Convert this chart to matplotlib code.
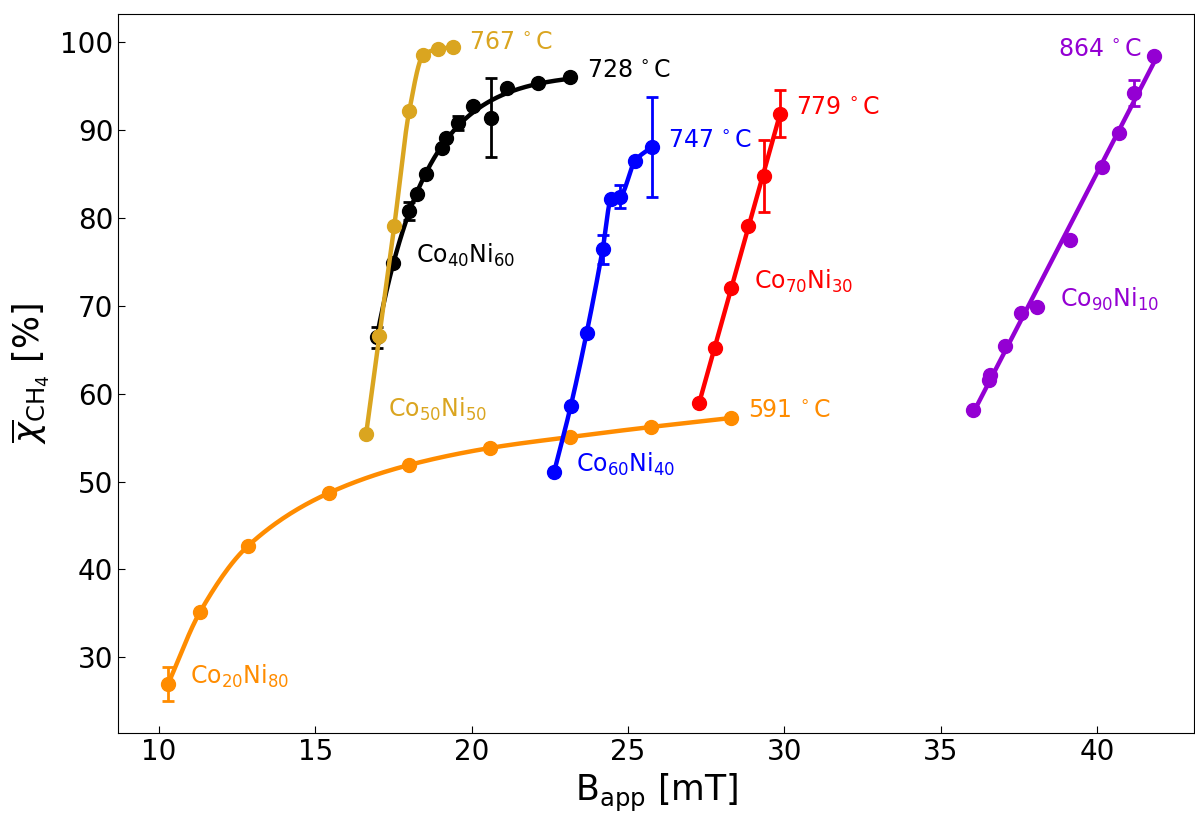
import numpy as np
import matplotlib
matplotlib.use("Agg")
import matplotlib.pyplot as plt

# Applied field B_app [mT] and mean CH4 conversion [%] per alloy
b_co20 = [10.30, 11.32, 12.85, 15.44, 18.00, 20.59, 23.15, 25.74, 28.29]
x_co20 = [26.96, 35.15, 42.66, 48.70, 51.88, 53.82, 55.07, 56.21, 57.23]
e_co20 = [1.9, 0, 0, 0, 0, 0, 0, 0, 0]

b_co40 = [16.97, 17.50, 18.01, 18.25, 18.54, 19.05, 19.18, 19.56, 20.06, 20.61, 21.12, 22.13, 23.15]
x_co40 = [66.42, 74.85, 80.80, 82.70, 84.98, 87.94, 89.14, 90.85, 92.75, 91.42, 94.76, 95.40, 96.02]
e_co40 = [1.2, 0, 1.0, 0, 0, 0, 0, 0.8, 0.3, 4.5, 0, 0, 0]

b_co50 = [16.63, 17.05, 17.53, 18.01, 18.46, 18.92, 19.40]
x_co50 = [55.42, 66.57, 79.09, 92.21, 98.55, 99.20, 99.43]
e_co50 = [0, 0, 0, 0, 0, 0, 0]

b_co60 = [22.64, 23.17, 23.68, 24.19, 24.46, 24.75, 25.23, 25.76]
x_co60 = [51.13, 58.60, 66.95, 76.44, 82.13, 82.43, 86.52, 88.05]
e_co60 = [0, 0, 0, 1.67, 0, 1.27, 0, 5.71]

b_co70 = [27.28, 27.78, 28.29, 28.83, 29.33, 29.86]
x_co70 = [58.98, 65.24, 72.00, 79.13, 84.78, 91.84]
e_co70 = [0, 0, 0, 0, 4.12, 2.69]

b_co90 = [36.02, 36.55, 36.58, 37.06, 37.56, 38.07, 39.11, 40.15, 40.68, 41.16, 41.82]
x_co90 = [58.15, 61.56, 62.13, 65.43, 69.22, 69.84, 77.50, 85.84, 89.71, 94.26, 98.44]
e_co90 = [0, 0, 0, 0, 0, 0, 0, 0, 0, 1.48, 0]

temps = ["591", "728", "767", "747", "779", "864"]


def pchip(x, y, xn):
    """Shape-preserving piecewise cubic Hermite curve through (x, y)."""
    x = np.asarray(x, float)
    y = np.asarray(y, float)
    h = np.diff(x)
    d = np.diff(y) / h
    m = np.zeros_like(y)
    m[0], m[-1] = d[0], d[-1]
    for k in range(1, len(x) - 1):
        if d[k - 1] * d[k] > 0:
            w1 = 2 * h[k] + h[k - 1]
            w2 = h[k] + 2 * h[k - 1]
            m[k] = (w1 + w2) / (w1 / d[k - 1] + w2 / d[k])
    idx = np.clip(np.searchsorted(x, xn) - 1, 0, len(x) - 2)
    t = (xn - x[idx]) / h[idx]
    h00 = 2 * t**3 - 3 * t**2 + 1
    h10 = t**3 - 2 * t**2 + t
    h01 = -2 * t**3 + 3 * t**2
    h11 = t**3 - t**2
    return h00 * y[idx] + h10 * h[idx] * m[idx] + h01 * y[idx + 1] + h11 * h[idx] * m[idx + 1]


def linfit(x, y, xn):
    return np.polyval(np.polyfit(x, y, 1), xn)


def satfit(x, y, xn):
    """Least-squares fit of y = a - b*exp(-c*(x - x0)), scanning c."""
    x = np.asarray(x, float)
    y = np.asarray(y, float)
    x0 = x.min()
    best = None
    for c in np.linspace(0.05, 4.0, 800):
        A = np.column_stack([np.ones_like(x), -np.exp(-c * (x - x0))])
        coef, *_ = np.linalg.lstsq(A, y, rcond=None)
        r = np.sum((A @ coef - y) ** 2)
        if best is None or r < best[0]:
            best = (r, c, coef)
    _, c, (a, b) = best
    return a - b * np.exp(-c * (xn - x0))


fig = plt.figure(figsize=(11.95, 8.14), dpi=100)
ax = fig.add_axes([0.099, 0.0991, 0.9005, 0.8837])

series = [
    (b_co20, x_co20, e_co20, "darkorange", pchip),
    (b_co40, x_co40, e_co40, "black", satfit),
    (b_co50, x_co50, e_co50, "goldenrod", pchip),
    (b_co60, x_co60, e_co60, "blue", pchip),
    (b_co70, x_co70, e_co70, "red", linfit),
    (b_co90, x_co90, e_co90, "darkviolet", linfit),
]

for i, (b, xc, e, col, curve) in enumerate(series):
    bn = np.linspace(min(b), max(b), 300)
    yn = curve(b, xc, bn)
    z = 2 + i
    ax.plot(bn, yn, color=col, lw=3.2, zorder=z)
    ax.errorbar(b, xc, yerr=e, fmt="o", color=col, ms=10, elinewidth=2,
                capsize=4, capthick=2, zorder=z + 0.5)

deg = r"$\,^\circ$C"
lab = dict(fontsize=17, va="center", ha="left")
ax.text(28.84, 58.0, temps[0] + deg, color="darkorange", **lab)
ax.text(23.69, 96.7, temps[1] + deg, color="black", **lab)
ax.text(19.92, 99.95, temps[2] + deg, color="goldenrod", **lab)
ax.text(26.28, 88.7, temps[3] + deg, color="blue", **lab)
ax.text(30.38, 92.55, temps[4] + deg, color="red", **lab)
ax.text(38.75, 99.05, temps[5] + deg, color="darkviolet", **lab)

ax.text(11.0, 27.8, r"Co$_{20}$Ni$_{80}$", color="darkorange", **lab)
ax.text(18.23, 75.7, r"Co$_{40}$Ni$_{60}$", color="black", **lab)
ax.text(17.33, 58.2, r"Co$_{50}$Ni$_{50}$", color="goldenrod", **lab)
ax.text(23.34, 51.9, r"Co$_{60}$Ni$_{40}$", color="blue", **lab)
ax.text(29.03, 72.8, r"Co$_{70}$Ni$_{30}$", color="red", **lab)
ax.text(38.79, 70.7, r"Co$_{90}$Ni$_{10}$", color="darkviolet", **lab)

ax.set_xlim(8.71, 43.1)
ax.set_ylim(21.35, 103.2)
ax.set_xticks([10, 15, 20, 25, 30, 35, 40])
ax.set_yticks([30, 40, 50, 60, 70, 80, 90, 100])
ax.tick_params(direction="in", labelsize=20, length=5)
ax.set_xlabel(r"B$_\mathrm{app}$ [mT]", fontsize=25, labelpad=4)
ax.set_ylabel(r"$\overline{\chi}_{\mathrm{CH_4}}$ [%]", fontsize=25, labelpad=6)

fig.savefig("out.png", dpi=100)
